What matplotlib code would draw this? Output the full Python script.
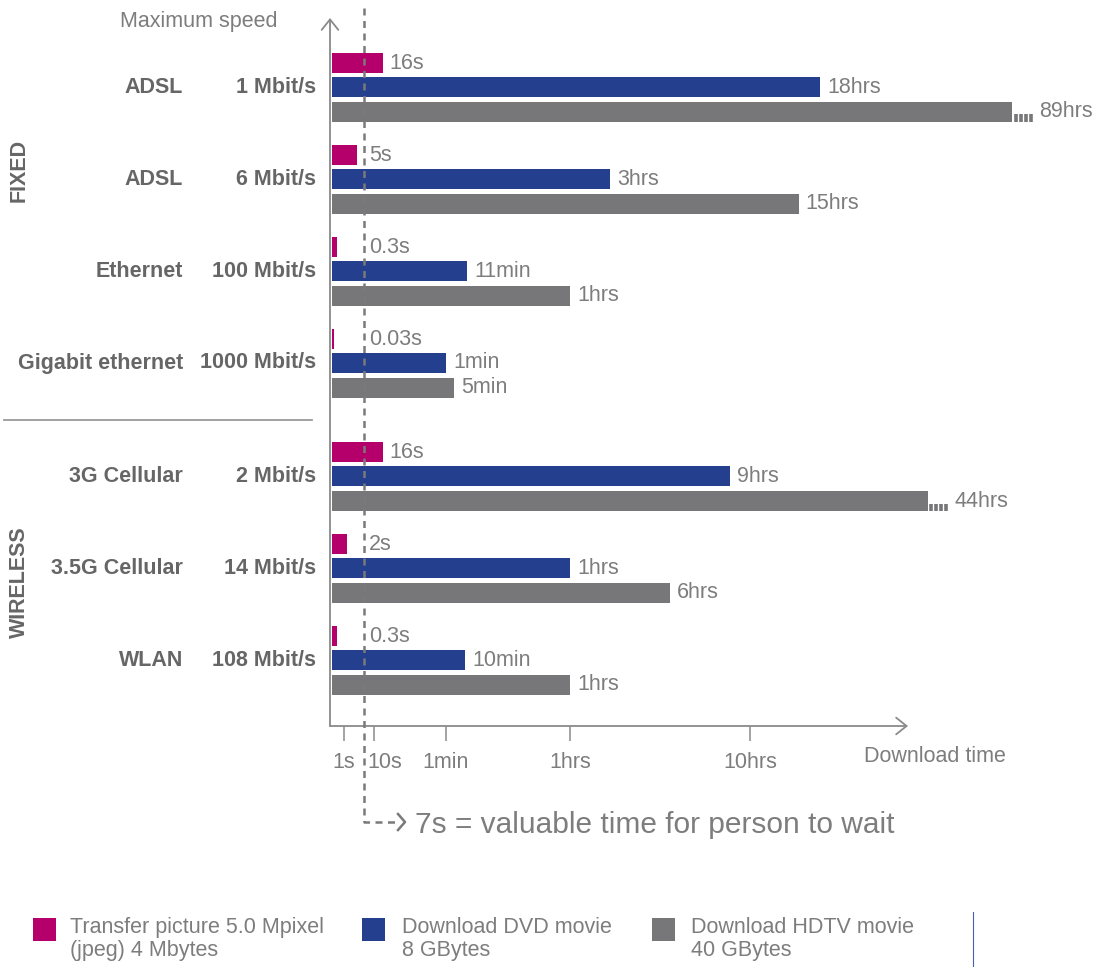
import numpy as np
import matplotlib
matplotlib.use("Agg")
import matplotlib.pyplot as plt
from matplotlib.patches import Rectangle
from matplotlib.lines import Line2D
from matplotlib import transforms

# ---------------------------------------------------------------- data
HOUR = 3600
MINUTE = 60

technologies = ["ADSL", "ADSL", "Ethernet", "Gigabit ethernet",
                "3G Cellular", "3.5G Cellular", "WLAN"]
speeds = ["1 Mbit/s", "6 Mbit/s", "100 Mbit/s", "1000 Mbit/s",
          "2 Mbit/s", "14 Mbit/s", "108 Mbit/s"]
sections = ["FIXED", "FIXED", "FIXED", "FIXED",
            "WIRELESS", "WIRELESS", "WIRELESS"]

# download times in seconds
picture_s = [16, 5, 0.3, 0.03, 16, 2, 0.3]
dvd_s = [18 * HOUR, 3 * HOUR, 11 * MINUTE, 1 * MINUTE, 9 * HOUR, 1 * HOUR, 10 * MINUTE]
hdtv_s = [89 * HOUR, 15 * HOUR, 1 * HOUR, 5 * MINUTE, 44 * HOUR, 6 * HOUR, 1 * HOUR]

series_names = ["Transfer picture 5.0 Mpixel\n(jpeg) 4 Mbytes",
                "Download DVD movie\n8 GBytes",
                "Download HDTV movie\n40 GBytes"]

tick_s = [1, 10, 1 * MINUTE, 1 * HOUR, 10 * HOUR]
tick_labels = ["1s", "10s", "1min", "1hrs", "10hrs"]

wait_s = 7
wait_text = "7s = valuable time for person to wait"

# ---------------------------------------------------------------- style
W, H = 1096, 967
PINK, BLUE, GREY = "#B5006B", "#243F8E", "#77777A"
TXT, TXT_BOLD, AXIS = "#7D7D7D", "#666666", "#8A8A8A"
LIGHT = ["Liberation Sans", "DejaVu Sans"]
BOLD = ["Liberation Sans", "DejaVu Sans"]
FS = 15.5

plt.rcParams["font.family"] = LIGHT


def fmt_time(t):
    if t < MINUTE:
        return f"{t:g}s"
    if t < HOUR:
        return f"{t / MINUTE:g}min"
    return f"{t / HOUR:g}hrs"


# Piecewise time axis: linear between the labelled ticks, logarithmic
# beyond ten hours.
SCALE_T = np.array([0, 0.01, 1, 10, 60, 3600, 36000], float)
SCALE_U = np.array([0, 2, 12, 42, 114, 238, 418], float)
TAIL_PER_DECADE = 276.0


def fwd(t):
    t = np.asarray(t, float)
    lin = np.interp(t, SCALE_T, SCALE_U)
    tail = SCALE_U[-1] + TAIL_PER_DECADE * np.log10(
        np.maximum(t, SCALE_T[-1]) / SCALE_T[-1])
    return np.where(t > SCALE_T[-1], tail, lin)


def inv(u):
    u = np.asarray(u, float)
    lin = np.interp(u, SCALE_U, SCALE_T)
    tail = SCALE_T[-1] * 10 ** ((np.maximum(u, SCALE_U[-1]) - SCALE_U[-1])
                                / TAIL_PER_DECADE)
    return np.where(u > SCALE_U[-1], tail, lin)


def fig_px(x, y):
    """Figure fraction from pixel position measured from the top-left."""
    return x / W, 1 - y / H


fig = plt.figure(figsize=(W / 100, H / 100), dpi=100)
ax_left, ax_right, ax_top, ax_bottom = 332, 1096, 8, 726
ax = fig.add_axes([ax_left / W, 1 - ax_bottom / H,
                   (ax_right - ax_left) / W, (ax_bottom - ax_top) / H])
ax.set_xscale("function", functions=(fwd, inv))
ax.set_xlim(0, float(inv(ax_right - ax_left)))

# vertical layout: one row per technology, extra gap before wireless
row_px = 92.0
section_gap = 0.23
ypos = np.array([i + (section_gap if s == "WIRELESS" else 0)
                 for i, s in enumerate(sections)])
ax.set_ylim((ax_bottom - 87) / row_px, (ax_top - 87) / row_px)

bar_h = 0.215
offsets = [-0.26, 0.0, 0.27]
colors = [PINK, BLUE, GREY]
all_series = [picture_s, dvd_s, hdtv_s]

arrow_end_u = 578  # end of the drawn time axis


def dot_tr(dx):
    return transforms.offset_copy(ax.transData, fig=fig, x=dx, y=0, units="dots")


for vals, off, col in zip(all_series, offsets, colors):
    yy = ypos + off
    ax.barh(yy, vals, height=bar_h, left=0, color=col, linewidth=0)
    for t, y in zip(vals, yy):
        label_dx = 7
        if fwd(t) > arrow_end_u:
            # truncated bar: trailing dots
            for k in range(4):
                dx = 3.5 + k * 5
                ax.plot([t, t], [y + 0.5 * bar_h, y + 0.13 * bar_h],
                        color=col, lw=2.6, solid_capstyle="butt",
                        transform=dot_tr(dx), clip_on=False)
            label_dx = 27
        anchor = t
        if col == PINK and t < wait_s:
            anchor, label_dx = wait_s, 5
        ax.annotate(fmt_time(t), xy=(anchor, y), xytext=(label_dx, 0),
                    textcoords="offset pixels", va="center", ha="left",
                    fontsize=FS, color=TXT, annotation_clip=False)

# row labels
for tech, spd, y in zip(technologies, speeds, ypos):
    for txt, dx in ((tech, -149), (spd, -16)):
        ax.annotate(txt, xy=(0, y), xycoords=("axes fraction", "data"),
                    xytext=(dx, 0), textcoords="offset pixels",
                    ha="right", va="center", fontsize=FS,
                    fontweight="bold", family=BOLD, color=TXT_BOLD,
                    annotation_clip=False)

# axes look
for sp in ax.spines.values():
    sp.set_visible(False)
ax.set_yticks([])
ax.set_xticks(tick_s, tick_labels)
ax.tick_params(axis="x", direction="out", length=11, width=1.1,
               color=AXIS, pad=8, labelsize=FS, labelcolor=TXT)
for lbl in ax.get_xticklabels():
    if lbl.get_text() == "10s":
        # keep the label clear of the waiting-time line
        lbl.set_transform(lbl.get_transform() +
                          transforms.ScaledTranslation(0.11, 0, fig.dpi_scale_trans))
ax.set_facecolor("none")

# axis arrows
arrow = dict(arrowstyle="->,head_length=0.75,head_width=0.6",
             color=AXIS, lw=1.3, mutation_scale=10, shrinkA=0, shrinkB=0)
ax.annotate("", xy=(ax_left - 2 + arrow_end_u, H - ax_bottom),
            xytext=(ax_left - 2, H - ax_bottom), xycoords="figure pixels",
            textcoords="figure pixels", arrowprops=arrow)
ax.annotate("", xy=(ax_left - 2, H - 18), xytext=(ax_left - 2, H - ax_bottom),
            xycoords="figure pixels", textcoords="figure pixels",
            arrowprops=arrow)

fig.text(*fig_px(864, 756), "Download time", fontsize=FS, color=TXT,
         ha="left", va="center")
fig.text(*fig_px(120, 21), "Maximum speed", fontsize=FS, color=TXT,
         ha="left", va="center")

# section labels and divider
fig.text(*fig_px(19, 170), "FIXED", rotation=90, ha="center", va="center",
         fontsize=FS, fontweight="bold", family=BOLD, color=TXT_BOLD)
fig.text(*fig_px(19, 582), "WIRELESS", rotation=90, ha="center", va="center",
         fontsize=FS, fontweight="bold", family=BOLD, color=TXT_BOLD)
div_y = (ypos[3] + ypos[4]) / 2
div_tr = transforms.blended_transform_factory(fig.transFigure, ax.transData)
fig.add_artist(Line2D([4 / W, 312 / W], [div_y, div_y], transform=div_tr,
                      color="#9A9A9A", lw=1.3))

# waiting-time marker
fig.canvas.draw()
wx = ax.transData.transform((wait_s, 0))[0]
corner_y = 822
fig.add_artist(Line2D([wx / W, wx / W, 399 / W],
                      [1 - ax_top / H, 1 - corner_y / H, 1 - corner_y / H],
                      transform=fig.transFigure, color="#7A7A7A", lw=1.8,
                      dashes=(2.8, 2.2)))
fig.add_artist(Line2D([398 / W, 405 / W, 398 / W],
                      [1 - (corner_y - 8) / H, 1 - corner_y / H, 1 - (corner_y + 8) / H],
                      transform=fig.transFigure, color="#7A7A7A", lw=1.8))
fig.text(*fig_px(415, 825), wait_text, fontsize=21.5, color=TXT,
         ha="left", va="center")

# legend
legend_x = [(33, 70), (362, 402), (652, 691)]
for (sx, tx), col, name in zip(legend_x, colors, series_names):
    fig.add_artist(Rectangle(fig_px(sx, 941), 23 / W, 23 / H,
                             transform=fig.transFigure, color=col, lw=0))
    fig.text(*fig_px(tx, 917), name, fontsize=FS, color=TXT, ha="left",
             va="top", linespacing=1.14)
fig.add_artist(Line2D([973 / W, 973 / W], [1 - 912 / H, 0],
                      transform=fig.transFigure, color="#4A5FA8", lw=0.8))

fig.savefig("out.png", dpi=100)
